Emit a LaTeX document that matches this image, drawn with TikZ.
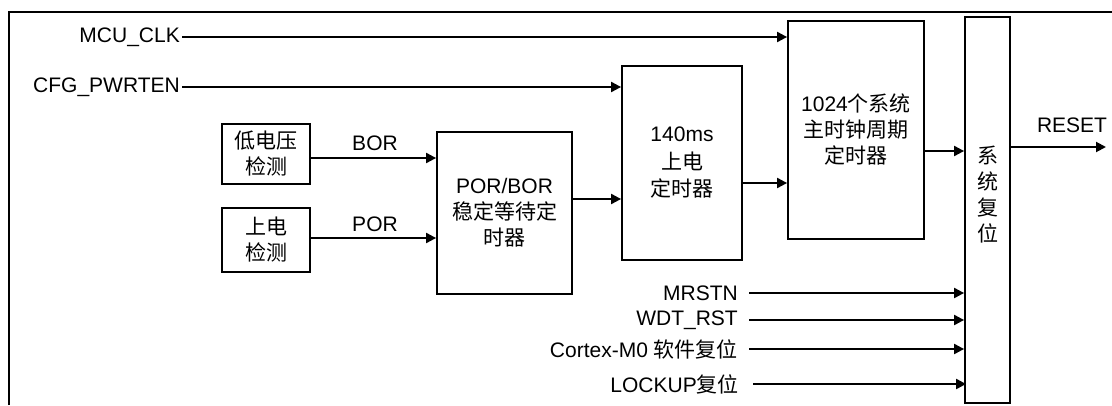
\documentclass[tikz,border=0pt]{standalone}
\usepackage{fontspec}
\setmainfont{Liberation Sans}
\newfontfamily\cjk{Noto Sans CJK SC}
\usetikzlibrary{arrows.meta}
\begin{document}
\begin{tikzpicture}[x=1pt,y=-1pt,
  txt/.style={font=\fontsize{21}{26}\selectfont, inner sep=0pt, align=center},
  blk/.style={draw, line width=1.8pt, inner sep=0pt, font=\fontsize{21}{26}\selectfont, align=center},
  arr/.style={line width=2pt, -{Triangle[length=10pt,width=10pt]}},
  frame/.style={line width=2.4pt}]
\useasboundingbox (0,0) rectangle (1112,405);
% outer frame
\draw[frame] (9,405) -- (9,12) -- (1112,12);
% blocks
\node[blk, minimum width=88pt, minimum height=60pt] (low) at (266,154) {{\cjk 低电压}\\{\cjk 检测}};
\node[blk, minimum width=88pt, minimum height=64pt] (pwr) at (266,240) {{\cjk 上电}\\{\cjk 检测}};
\node[blk, minimum width=135pt, minimum height=162pt] (porbor) at (504.5,213) {POR/BOR\\{\cjk 稳定等待定}\\{\cjk 时器}};
\node[blk, minimum width=120pt, minimum height=194pt, font=\fontsize{21}{27.5}\selectfont] (t140) at (682,163) {140ms\\{\cjk 上电}\\{\cjk 定时器}};
\node[blk, minimum width=136pt, minimum height=218pt] (t1024) at (856,130) {1024{\cjk 个系统}\\{\cjk 主时钟周期}\\{\cjk 定时器}};
\node[blk, minimum width=45pt, minimum height=386pt] (sys) at (987.5,210) {};
\node[txt] (systxt) at (987.5,194.5) {{\cjk 系}\\{\cjk 统}\\{\cjk 复}\\{\cjk 位}};
% input labels
\node[txt, anchor=east] (mcu) at (180,37) {MCU\_CLK};
\node[txt, anchor=east] (cfg) at (180,87) {CFG\_PWRTEN};
\node[txt] (borl) at (375,143) {BOR};
\node[txt] (porl) at (375,224) {POR};
\node[txt, anchor=east] (mrstn) at (738,293) {MRSTN};
\node[txt, anchor=east] (wdt) at (738,320) {WDT\_RST};
\node[txt, anchor=east] (cortex) at (738,349) {Cortex-M0 {\cjk 软件复位}};
\node[txt, anchor=east] (lockup) at (739,384) {LOCKUP{\cjk 复位}};
\node[txt] (resetl) at (1072,125) {RESET};
% connectors
\draw[arr] ([xshift=2pt]mcu.east) -- (mcu.east -| t1024.west);
\draw[arr] ([xshift=2pt]cfg.east) -- (cfg.east -| t140.west);
\draw[arr] (low.east |- 0,158) -- (porbor.west |- 0,158);
\draw[arr] (pwr.east |- 0,238) -- (porbor.west |- 0,238);
\draw[arr] (porbor.east |- 0,199) -- (t140.west |- 0,199);
\draw[arr] (t140.east |- 0,183) -- (t1024.west |- 0,183);
\draw[arr] (t1024.east |- 0,151) -- (sys.west |- 0,151);
\coordinate (resetend) at (1106,147);
\draw[arr] (sys.east |- resetend) -- (resetend);
\draw[arr] ([xshift=11pt]mrstn.east) -- (mrstn.east -| sys.west);
\draw[arr] ([xshift=11pt]wdt.east) -- (wdt.east -| sys.west);
\draw[arr] ([xshift=11pt]cortex.east) -- (cortex.east -| sys.west);
\draw[arr] ([xshift=14pt]lockup.east) -- ([xshift=2pt]lockup.east -| sys.west);
\end{tikzpicture}
\end{document}
